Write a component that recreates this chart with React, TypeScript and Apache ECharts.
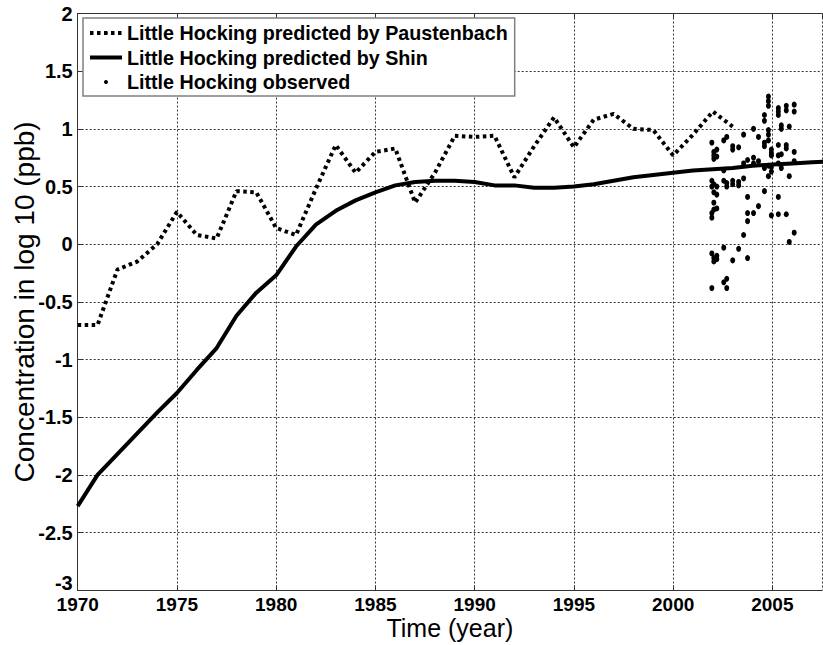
import React, { useEffect, useRef } from "react";
import * as echarts from "echarts";

const xTicks = [1970, 1975, 1980, 1985, 1990, 1995, 2000, 2005];

const paustYears = [1970, 1971, 1972, 1973, 1974, 1975, 1976, 1977, 1978, 1979, 1980, 1981, 1982, 1983, 1984, 1985, 1986, 1987, 1988, 1989, 1990, 1991, 1992, 1993, 1994, 1995, 1996, 1997, 1998, 1999, 2000, 2001, 2002, 2003];
const paustValues = [-0.70, -0.70, -0.22, -0.15, 0.00, 0.28, 0.08, 0.05, 0.46, 0.45, 0.14, 0.08, 0.48, 0.86, 0.62, 0.80, 0.83, 0.36, 0.62, 0.94, 0.93, 0.94, 0.58, 0.85, 1.10, 0.84, 1.08, 1.13, 1.00, 0.99, 0.77, 0.95, 1.15, 1.02];

const shinYears = [1970, 1971, 1972, 1973, 1974, 1975, 1976, 1977, 1978, 1979, 1980, 1981, 1982, 1983, 1984, 1985, 1986, 1987, 1988, 1989, 1990, 1991, 1992, 1993, 1994, 1995, 1996, 1997, 1998, 1999, 2000, 2001, 2002, 2003, 2004, 2005, 2006, 2007, 2008];
const shinValues = [-2.27, -2.00, -1.82, -1.64, -1.46, -1.29, -1.09, -0.90, -0.62, -0.42, -0.27, -0.02, 0.17, 0.29, 0.38, 0.45, 0.51, 0.54, 0.55, 0.55, 0.54, 0.51, 0.51, 0.49, 0.49, 0.50, 0.52, 0.55, 0.58, 0.60, 0.62, 0.64, 0.65, 0.66, 0.68, 0.69, 0.70, 0.71, 0.72];

const obsYears = [
  2001.95, 2001.95, 2001.95, 2001.95, 2001.95, 2001.95, 2001.95,
  2002.05, 2002.05, 2002.05, 2002.05, 2002.05, 2002.05, 2002.05, 2002.05, 2002.05,
  2002.2, 2002.2, 2002.2, 2002.2, 2002.2, 2002.2, 2002.2,
  2002.55, 2002.55, 2002.55, 2002.55, 2002.55,
  2002.7, 2002.7, 2002.7, 2002.7, 2002.7,
  2003.0, 2003.0, 2003.0, 2003.0, 2003.0,
  2003.3, 2003.3, 2003.3, 2003.3,
  2003.55, 2003.55, 2003.55, 2003.55,
  2003.75, 2003.75, 2003.75, 2003.75, 2003.75,
  2004.05, 2004.05, 2004.05, 2004.05,
  2004.3, 2004.3, 2004.3,
  2004.6, 2004.6, 2004.6, 2004.6, 2004.6, 2004.6,
  2004.8, 2004.8, 2004.8, 2004.8, 2004.8, 2004.8, 2004.8, 2004.8,
  2004.95, 2004.95, 2004.95, 2004.95, 2004.95, 2004.95,
  2005.3, 2005.3, 2005.3, 2005.3, 2005.3, 2005.3, 2005.3, 2005.3,
  2005.45, 2005.45, 2005.45, 2005.45,
  2005.7, 2005.7, 2005.7, 2005.7, 2005.7,
  2005.85, 2005.85, 2005.85,
  2006.1, 2006.1, 2006.1, 2006.1, 2006.1,
];
const obsValues = [
  0.88, 0.55, 0.50, 0.27, 0.23, -0.08, -0.38,
  0.80, 0.77, 0.74, 0.52, 0.45, 0.36, 0.30, -0.12, -0.15,
  0.82, 0.76, 0.50, 0.43, 0.31, -0.10, -0.13,
  0.90, 0.64, 0.55, -0.03, -0.33,
  0.93, 0.53, 0.50, -0.30, -0.38,
  0.85, 0.82, 0.55, 0.52, -0.14,
  0.84, 0.54, 0.51, -0.04,
  0.95, 0.70, 0.57, 0.08,
  0.73, 0.41, 0.27, 0.20, -0.12,
  1.00, 0.75, 0.70, 0.27,
  0.93, 0.72, 0.33,
  1.12, 1.07, 0.88, 0.85, 0.66, 0.46,
  1.28, 1.24, 1.20, 0.99, 0.95, 0.90, 0.68, 0.59,
  0.82, 0.79, 0.77, 0.67, 0.63, 0.25,
  1.18, 1.15, 1.12, 0.86, 0.77, 0.70, 0.41, 0.26,
  1.03, 1.00, 0.78, 0.66,
  1.20, 1.16, 0.86, 0.83, 0.26,
  1.02, 0.59, 0.02,
  1.21, 1.15, 0.80, 0.72, 0.10,
];

const FONT = "'Liberation Sans', Arial, Helvetica, sans-serif";

export default function App() {
  const ref = useRef<HTMLDivElement>(null);
  useEffect(() => {
    const chart = echarts.init(ref.current!, null, { renderer: "svg" });
    const gridLine = { show: true, lineStyle: { color: "#333", width: 1, type: [2, 2] as any } };
    const axisLineStyle = { show: true, onZero: false, lineStyle: { color: "#333", width: 1 } };
    const tickStyle = { show: true, inside: true, length: 5, lineStyle: { color: "#333" } };
    const option: any = {
      animation: false,
      backgroundColor: "#fff",
      textStyle: { fontFamily: FONT },
      grid: { left: 77.7, top: 13.5, right: 1, bottom: 54.7, containLabel: false, outerBoundsMode: "none" },
      legend: {
        orient: "vertical",
        left: 83,
        top: 18,
        itemWidth: 32,
        itemHeight: 4,
        itemGap: 4.5,
        padding: [5, 7, 4, 5],
        borderColor: "#808080",
        borderWidth: 1.5,
        backgroundColor: "#fff",
        selectedMode: false,
        lineStyle: { width: "inherit", type: "inherit" },
        textStyle: { fontFamily: FONT, fontSize: 19.7, fontWeight: "bold", color: "#000", lineHeight: 20 },
        data: [
          { name: "Little Hocking predicted by Paustenbach" },
          { name: "Little Hocking predicted by Shin" },
          { name: "Little Hocking observed", icon: "circle" },
        ],
      },
      xAxis: [
        {
          type: "value",
          min: 1970,
          max: 2007.5,
          interval: 5,
          name: "Time (year)",
          nameLocation: "middle",
          nameGap: 25,
          nameMoveOverlap: false,
          nameTextStyle: { fontFamily: FONT, fontSize: 25, color: "#000", lineHeight: 25 },
          axisLine: axisLineStyle,
          axisTick: tickStyle,
          axisLabel: {
            show: true,
            margin: 6,
            fontFamily: FONT,
            fontSize: 19,
            lineHeight: 16,
            fontWeight: "bold",
            color: "#000",
            showMaxLabel: false,
            formatter: (v: number) => (xTicks.indexOf(v) >= 0 ? String(v) : ""),
          },
          splitLine: gridLine,
        },
        {
          type: "value",
          position: "top",
          min: 1970,
          max: 2007.5,
          interval: 5,
          axisLine: axisLineStyle,
          axisTick: tickStyle,
          axisLabel: { show: false },
          splitLine: { show: false },
        },
      ],
      yAxis: {
        type: "value",
        min: -3,
        max: 2,
        interval: 0.5,
        name: "Concentration in log 10 (ppb)",
        nameLocation: "middle",
        nameGap: 38,
        nameMoveOverlap: false,
        nameTextStyle: { fontFamily: FONT, fontSize: 28, color: "#000", lineHeight: 30 },
        axisLine: axisLineStyle,
        axisTick: tickStyle,
        axisLabel: {
          margin: 5,
          fontFamily: FONT,
          fontSize: 20,
          fontWeight: "bold",
          color: "#000",
          formatter: (v: number) => (v === -3 ? "{lo|-3}" : String(v)),
          rich: {
            lo: { fontFamily: FONT, fontSize: 20, lineHeight: 18, fontWeight: "bold", color: "#000", padding: [0, 0, 14, 0] },
          },
        },
        splitLine: gridLine,
      },
      series: [
        {
          name: "Little Hocking predicted by Paustenbach",
          type: "line",
          xAxisIndex: 0,
          symbol: "none",
          data: paustYears.map((y, i) => [y, paustValues[i]]),
          lineStyle: { color: "#000", width: 4, type: [3.5, 3.5], cap: "butt" },
          itemStyle: { color: "#000" },
          z: 3,
        },
        {
          name: "Little Hocking predicted by Shin",
          type: "line",
          xAxisIndex: 0,
          symbol: "none",
          data: shinYears.map((y, i) => [y, shinValues[i]]),
          lineStyle: { color: "#000", width: 4, type: "solid" },
          itemStyle: { color: "#000" },
          z: 3,
        },
        {
          name: "Little Hocking observed",
          type: "scatter",
          xAxisIndex: 0,
          symbol: "circle",
          symbolSize: [5, 6],
          data: obsYears.map((y, i) => [y, obsValues[i]]),
          itemStyle: { color: "#000", opacity: 1 },
          z: 4,
        },
      ],
    };
    chart.setOption(option);
    return () => chart.dispose();
  }, []);
  return (
    <div
      ref={ref}
      style={{ position: "fixed", left: 0, top: 0, width: 823, height: 645, background: "#fff" }}
    />
  );
}
